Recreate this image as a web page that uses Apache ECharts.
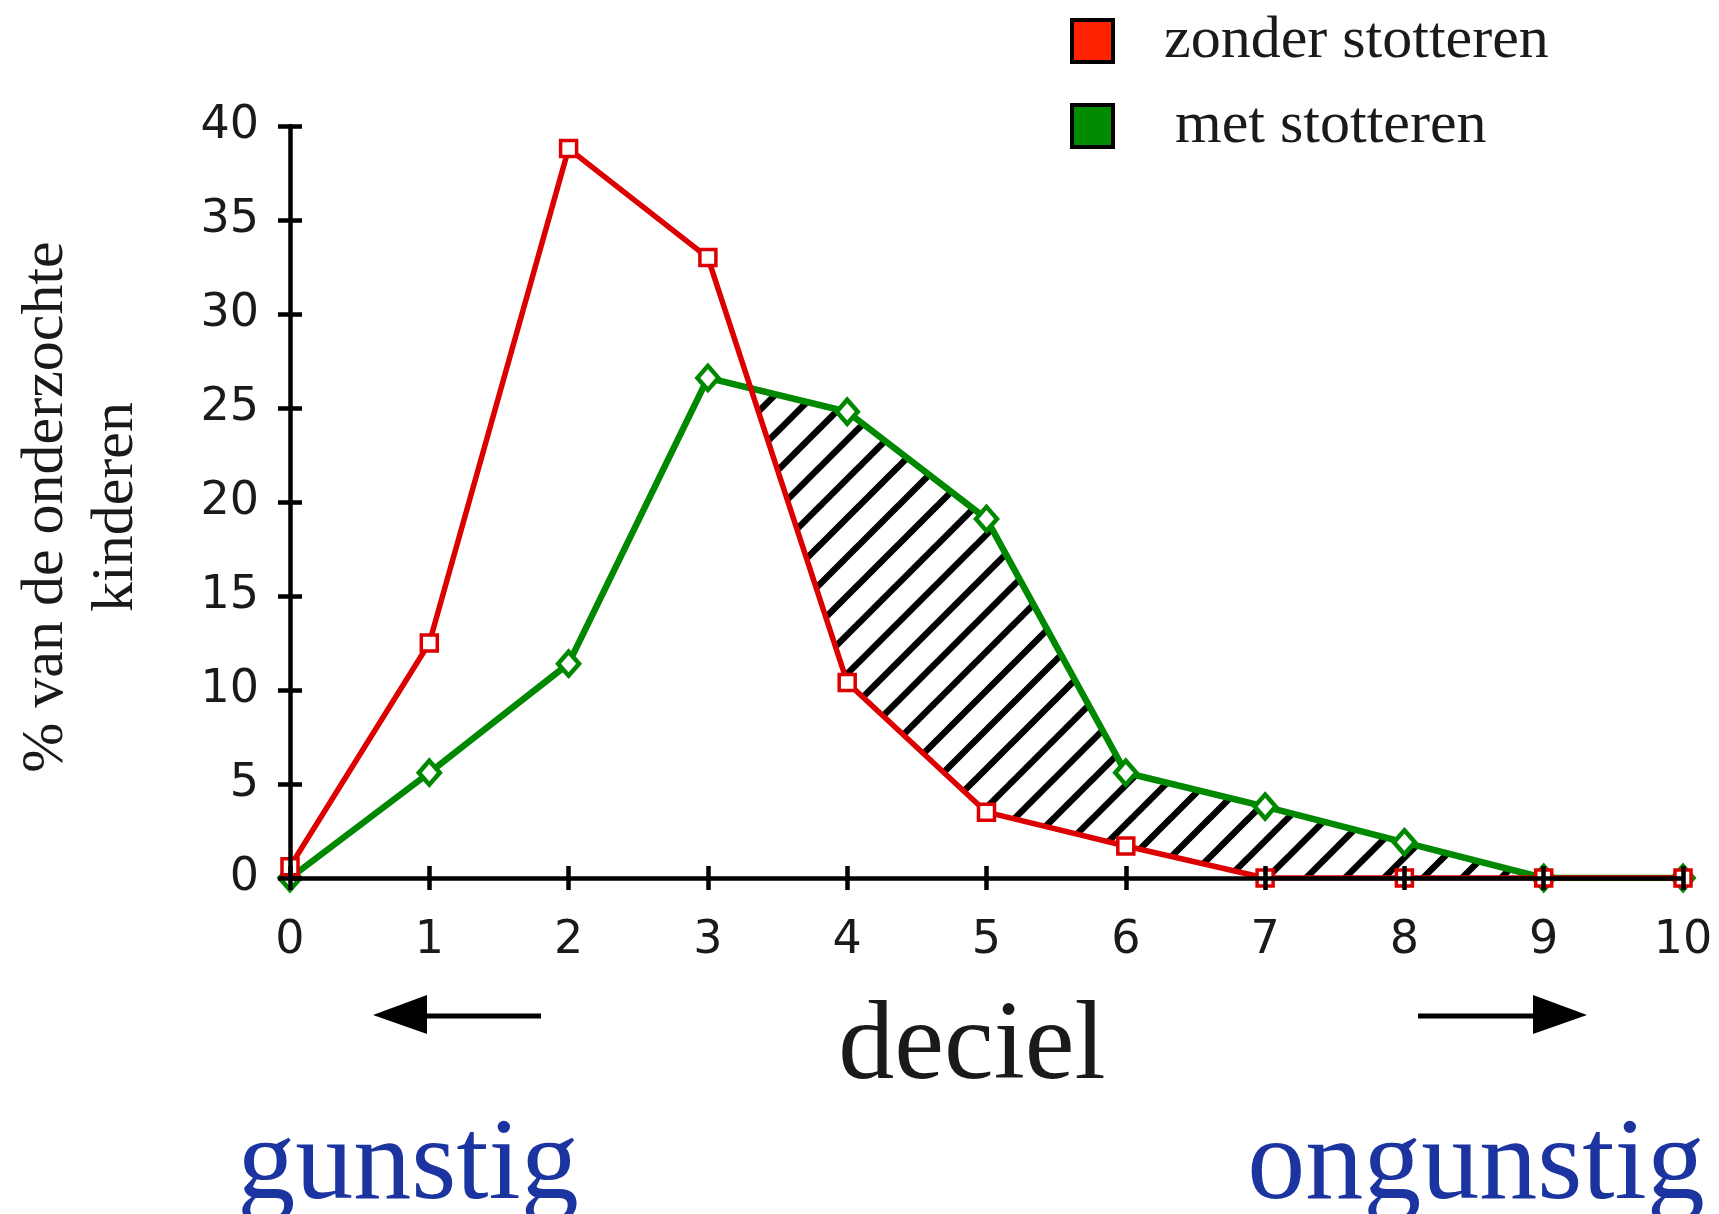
<!DOCTYPE html>
<html>
<head>
<meta charset="utf-8">
<title>deciel</title>
<script src="https://cdn.jsdelivr.net/npm/echarts@6/dist/echarts.min.js"></script>
<style>
  html, body { margin: 0; padding: 0; background: #fff; }
  #chart { width: 1719px; height: 1214px; }
</style>
</head>
<body>
<div id="chart"></div>
<script>
// x: deciel, y: % van de onderzochte kinderen
var decielen = [0, 1, 2, 3, 4, 5, 6, 7, 8, 9, 10]
var yTicks = [0, 5, 10, 15, 20, 25, 30, 35, 40]
var zonderStotteren = [0.6, 12.5, 38.8, 33.0, 10.4, 3.5, 1.7, 0, 0, 0, 0]
var metStotteren = [0, 5.6, 11.4, 26.6, 24.8, 19.1, 5.6, 3.8, 1.9, 0, 0]

var RED = '#dd0000'
var GREEN = '#008800'
var INK = '#1a1a1a'
var BLUE = '#1c34a0'
var SERIF = '"Liberation Serif", "DejaVu Serif", serif'

function pairs (ys) {
  return decielen.map(function (x, i) { return [x, ys[i]] })
}

// diagonal hatch tile  ( / / / )
function hatchPattern () {
  var s = 39
  var c = document.createElement('canvas')
  c.width = s
  c.height = s
  var ctx = c.getContext('2d')
  ctx.strokeStyle = '#000'
  ctx.lineWidth = 6.5
  ;[0, s, 2 * s].forEach(function (k) {
    ctx.beginPath()
    ctx.moveTo(k + s, -s)
    ctx.lineTo(k - 2 * s, 2 * s)
    ctx.stroke()
  })
  return c
}

var tickStyle = { color: '#000', width: 4.5 }
var labelStyle = { fontFamily: 'DejaVu Sans', fontSize: 46, color: INK }

function xAxisDef (inner) {
  return {
    type: 'value',
    position: 'bottom',
    min: decielen[0],
    max: decielen[decielen.length - 1],
    interval: 1,
    z: 10,
    axisLine: { show: !inner, onZero: false, lineStyle: { color: '#000', width: 4.5 } },
    axisTick: { show: true, inside: inner, length: 12, lineStyle: tickStyle },
    axisLabel: inner ? { show: false } : Object.assign({ margin: 40 }, labelStyle),
    splitLine: { show: false }
  }
}

function yAxisDef (inner) {
  return {
    type: 'value',
    position: 'left',
    min: yTicks[0],
    max: yTicks[yTicks.length - 1],
    interval: yTicks[1] - yTicks[0],
    z: 10,
    axisLine: { show: !inner, onZero: false, lineStyle: { color: '#000', width: 4.5 } },
    axisTick: { show: true, inside: inner, length: 12, lineStyle: tickStyle },
    axisLabel: inner ? { show: false } : Object.assign({ margin: 31 }, labelStyle),
    splitLine: { show: false }
  }
}

function legendDef (name, color, top, gap) {
  return {
    left: 1070,
    top: top,
    padding: 0,
    itemWidth: 41,
    itemHeight: 42,
    selectedMode: false,
    textStyle: { fontFamily: SERIF, fontSize: 60, color: INK, lineHeight: 42 },
    data: [{
      name: name,
      icon: 'rect',
      itemStyle: { color: color, borderColor: '#000', borderWidth: 4 },
      textStyle: { padding: [0, 0, 0, gap] }
    }]
  }
}

var myChart = echarts.init(document.getElementById('chart'))
myChart.setOption({
  animation: false,
  grid: { left: 290, right: 36, top: 126, bottom: 336 },
  xAxis: [xAxisDef(false), xAxisDef(true)],
  yAxis: [yAxisDef(false), yAxisDef(true)],
  legend: [
    legendDef('zonder stotteren', '#ff2200', 11, 46),
    legendDef('met stotteren', '#008c00', 96, 57)
  ],
  series: [
    {
      name: 'arcering',
      type: 'line',
      data: pairs(metStotteren),
      symbol: 'none',
      silent: true,
      z: 1,
      lineStyle: { width: 0, opacity: 0 },
      areaStyle: { color: { image: hatchPattern(), repeat: 'repeat' }, opacity: 1 }
    },
    {
      name: 'masker',
      type: 'line',
      data: pairs(zonderStotteren),
      symbol: 'none',
      silent: true,
      z: 1,
      lineStyle: { width: 0, opacity: 0 },
      areaStyle: { color: '#fff', opacity: 1 }
    },
    {
      name: 'met stotteren',
      type: 'line',
      data: pairs(metStotteren),
      symbol: 'diamond',
      symbolSize: [21, 24],
      showAllSymbol: true,
      z: 3,
      lineStyle: { color: GREEN, width: 6.5 },
      itemStyle: { color: '#fff', borderColor: GREEN, borderWidth: 4.5 }
    },
    {
      name: 'zonder stotteren',
      type: 'line',
      data: pairs(zonderStotteren),
      symbol: 'rect',
      symbolSize: 16,
      showAllSymbol: true,
      z: 4,
      lineStyle: { color: RED, width: 5.5 },
      itemStyle: { color: '#fff', borderColor: RED, borderWidth: 3.5 }
    }
  ],
  graphic: [
    {
      type: 'text', x: 46, y: 507, rotation: Math.PI / 2,
      style: { text: '% van de onderzochte', font: '60px ' + SERIF, fill: INK, align: 'center', verticalAlign: 'middle' }
    },
    {
      type: 'text', x: 116, y: 507, rotation: Math.PI / 2,
      style: { text: 'kinderen', font: '60px ' + SERIF, fill: INK, align: 'center', verticalAlign: 'middle' }
    },
    {
      type: 'text', x: 972, y: 1049,
      style: { text: 'deciel', font: '112px ' + SERIF, fill: INK, align: 'center', verticalAlign: 'middle' }
    },
    {
      type: 'text', x: 408, y: 1168,
      style: { text: 'gunstig', font: '116px ' + SERIF, fill: BLUE, align: 'center', verticalAlign: 'middle' }
    },
    {
      type: 'text', x: 1476, y: 1168,
      style: { text: 'ongunstig', font: '116px ' + SERIF, fill: BLUE, align: 'center', verticalAlign: 'middle' }
    },
    // arrows
    { type: 'line', shape: { x1: 425, y1: 1016, x2: 541, y2: 1016 }, style: { stroke: '#000', lineWidth: 5 } },
    { type: 'polygon', shape: { points: [[373, 1015], [427, 995], [427, 1034]] }, style: { fill: '#000' } },
    { type: 'line', shape: { x1: 1418, y1: 1016, x2: 1535, y2: 1016 }, style: { stroke: '#000', lineWidth: 5 } },
    { type: 'polygon', shape: { points: [[1587, 1015], [1533, 995], [1533, 1034]] }, style: { fill: '#000' } }
  ]
})
</script>
</body>
</html>
